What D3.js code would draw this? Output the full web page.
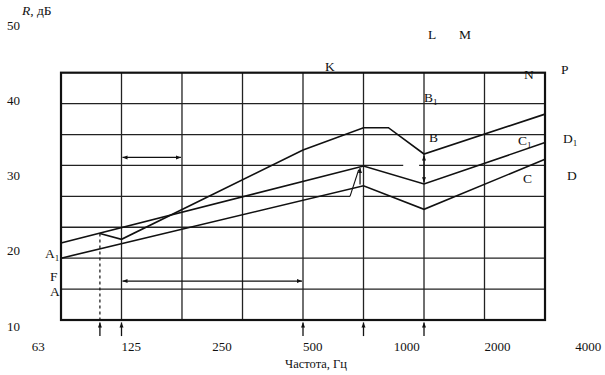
<!DOCTYPE html>
<html>

<head>
    <meta charset="utf-8">
    <title>Частотная характеристика R</title>
    <script src="https://d3js.org/d3.v7.min.js"></script>
    <style>
        body { margin: 0; padding: 0; background: #fff; }
        text { font-family: "Liberation Serif", "DejaVu Serif", serif; fill: #111; }
    </style>
</head>

<body>
    <div id="container"></div>

    <script>
        // Подписи осей
        var freqLabels = [63, 125, 250, 500, 1000, 2000, 4000];
        var dbLabels = [10, 20, 30, 40, 50];

        // Рамка и сетка (шаг 2/3 октавы по частоте, 5 дБ по уровню)
        var frameHz = [78.75, 3175];
        var frameDb = [10, 50];
        var gridHz = [125, 198.4, 315, 500, 793.7, 1260, 2000];
        var gridDb = [15, 20, 25, 30, 35, 40, 45];
        var gridGaps = [
            { db: 35, from: 1075, to: 1214 },
            { db: 30, from: 716, to: 790 }
        ];

        // Кривые [Гц, дБ]
        var curveB = [[106, 24.0], [125, 23.05], [500, 37.5], [793.7, 41.1], [960, 41.1], [1260, 36.85], [3175, 43.3]];
        var curveC1 = [[78.75, 22.45], [793.7, 34.9], [1260, 32.0], [3175, 38.7]];
        var curveC = [[78.75, 20.0], [793.7, 31.7], [1260, 27.9], [3175, 36.0]];

        // Стрелки
        var markHz = [106, 125, 500, 793.7, 1260];
        var spanArrows = [
            { from: 125, to: 198.4, db: 36.3 },
            { from: 125, to: 500, db: 16.3 }
        ];

        // Буквенные обозначения
        var letters = [
            { t: "K", f: 591, db: 50.3 }, { t: "L", f: 1299, db: 55.4 }, { t: "M", f: 1646, db: 55.4 },
            { t: "N", f: 2704, db: 49.0 }, { t: "P", f: 3588, db: 49.8 },
            { t: "B", s: "1", f: 1259, db: 45.3 }, { t: "B", f: 1309, db: 38.8 },
            { t: "C", s: "1", f: 2582, db: 38.3 }, { t: "D", s: "1", f: 3643, db: 38.6 },
            { t: "C", f: 2683, db: 32.2 }, { t: "D", f: 3756, db: 32.6 },
            { t: "A", s: "1", f: 69.7, db: 20.0 }, { t: "F", f: 72.4, db: 16.3 }, { t: "A", f: 72.4, db: 13.9 }
        ];

        var width = 605, height = 375;

        var svg = d3.select("#container").append("svg")
            .attr("width", width)
            .attr("height", height);

        var x = d3.scaleLog().base(2)
            .domain([62.5, 4000])
            .range([30.75, 575.25]);

        var y = d3.scaleLinear()
            .domain(frameDb)
            .range([320, 72.7]);

        // шкала подписей дБ (на оригинале шаг подписей крупнее шага сетки)
        var yTick = d3.scaleLinear()
            .domain([10, 50])
            .range([326, 25]);

        var defs = svg.append("defs");
        defs.append("marker")
            .attr("id", "head")
            .attr("viewBox", "0 0 10 10")
            .attr("refX", 10).attr("refY", 5)
            .attr("markerWidth", 7).attr("markerHeight", 5)
            .attr("markerUnits", "userSpaceOnUse")
            .attr("orient", "auto-start-reverse")
            .append("path")
            .attr("d", "M0,1 L10,5 L0,9 z")
            .style("fill", "#111");

        // Горизонтальные линии сетки (с разрывами)
        gridDb.forEach(function (db) {
            var gaps = gridGaps.filter(g => g.db === db);
            var segs = [];
            var start = frameHz[0];
            gaps.forEach(function (g) {
                segs.push([start, g.from]);
                start = g.to;
            });
            segs.push([start, frameHz[1]]);
            segs.forEach(function (s) {
                svg.append("line")
                    .attr("x1", x(s[0])).attr("x2", x(s[1]))
                    .attr("y1", y(db)).attr("y2", y(db))
                    .style("stroke", "#222")
                    .style("stroke-width", 1.3);
            });
        });

        // Вертикальные линии сетки
        svg.selectAll(".vgrid")
            .data(gridHz)
            .enter().append("line")
            .attr("x1", d => x(d)).attr("x2", d => x(d))
            .attr("y1", y(frameDb[0])).attr("y2", y(frameDb[1]))
            .style("stroke", "#222")
            .style("stroke-width", 1.3);

        // Рамка
        svg.append("rect")
            .attr("x", x(frameHz[0]))
            .attr("y", y(frameDb[1]))
            .attr("width", x(frameHz[1]) - x(frameHz[0]))
            .attr("height", y(frameDb[0]) - y(frameDb[1]))
            .style("fill", "none")
            .style("stroke", "#111")
            .style("stroke-width", 2.2);

        // Кривые
        var line = d3.line()
            .x(d => x(d[0]))
            .y(d => y(d[1]));

        [curveB, curveC1, curveC].forEach(function (c) {
            svg.append("path")
                .datum(c)
                .attr("d", line)
                .style("fill", "none")
                .style("stroke", "#111")
                .style("stroke-width", 1.6);
        });

        // Пунктир от точки пересечения вниз
        svg.append("line")
            .attr("x1", x(106)).attr("x2", x(106))
            .attr("y1", y(24.0)).attr("y2", y(10))
            .style("stroke", "#111")
            .style("stroke-width", 1.2)
            .style("stroke-dasharray", "3,3");

        // Стрелки под осью частот
        svg.selectAll(".mark")
            .data(markHz)
            .enter().append("line")
            .attr("x1", d => x(d)).attr("x2", d => x(d))
            .attr("y1", y(7.4)).attr("y2", y(9.6))
            .style("stroke", "#111")
            .style("stroke-width", 1.3)
            .attr("marker-end", "url(#head)");

        // Горизонтальные двусторонние стрелки
        svg.selectAll(".span")
            .data(spanArrows)
            .enter().append("line")
            .attr("x1", d => x(d.from) + 1).attr("x2", d => x(d.to) - 1)
            .attr("y1", d => y(d.db)).attr("y2", d => y(d.db))
            .style("stroke", "#111")
            .style("stroke-width", 1.2)
            .attr("marker-start", "url(#head)")
            .attr("marker-end", "url(#head)");

        // Вертикальная двусторонняя стрелка на 1250 Гц
        svg.append("line")
            .attr("x1", x(1260)).attr("x2", x(1260))
            .attr("y1", y(32.3)).attr("y2", y(36.6))
            .style("stroke", "#111")
            .style("stroke-width", 1.2)
            .attr("marker-start", "url(#head)")
            .attr("marker-end", "url(#head)");

        // Стрелки у пика 800 Гц
        svg.append("line")
            .attr("x1", x(773)).attr("x2", x(773))
            .attr("y1", y(31.9)).attr("y2", y(34.6))
            .style("stroke", "#111")
            .style("stroke-width", 1.2)
            .attr("marker-end", "url(#head)");
        svg.append("line")
            .attr("x1", x(716)).attr("x2", x(765))
            .attr("y1", y(30)).attr("y2", y(34.3))
            .style("stroke", "#111")
            .style("stroke-width", 1.1);

        // Подписи частот
        svg.selectAll(".xlab")
            .data(freqLabels)
            .enter().append("text")
            .attr("x", d => x(d))
            .attr("y", 351)
            .style("font-size", "13px")
            .text(d => d);

        // Подписи уровней
        svg.selectAll(".ylab")
            .data(dbLabels)
            .enter().append("text")
            .attr("x", 7)
            .attr("y", d => yTick(d))
            .attr("dy", "0.35em")
            .style("font-size", "13px")
            .text(d => d);

        // Названия осей
        var rt = svg.append("text")
            .attr("x", 22)
            .attr("y", 15)
            .style("font-size", "13.5px");
        rt.append("tspan").style("font-style", "italic").text("R");
        rt.append("tspan").text(", дБ");

        svg.append("text")
            .attr("x", 316)
            .attr("y", 368)
            .attr("text-anchor", "middle")
            .style("font-size", "12.5px")
            .text("Частота,  Гц");

        // Буквы
        var lt = svg.selectAll(".letter")
            .data(letters)
            .enter().append("text")
            .attr("x", d => x(d.f))
            .attr("y", d => y(d.db))
            .style("font-size", "13.5px");
        lt.append("tspan").text(d => d.t);
        lt.filter(d => d.s)
            .append("tspan")
            .attr("dy", 3)
            .style("font-size", "9px")
            .text(d => d.s);
    </script>
</body>

</html>
